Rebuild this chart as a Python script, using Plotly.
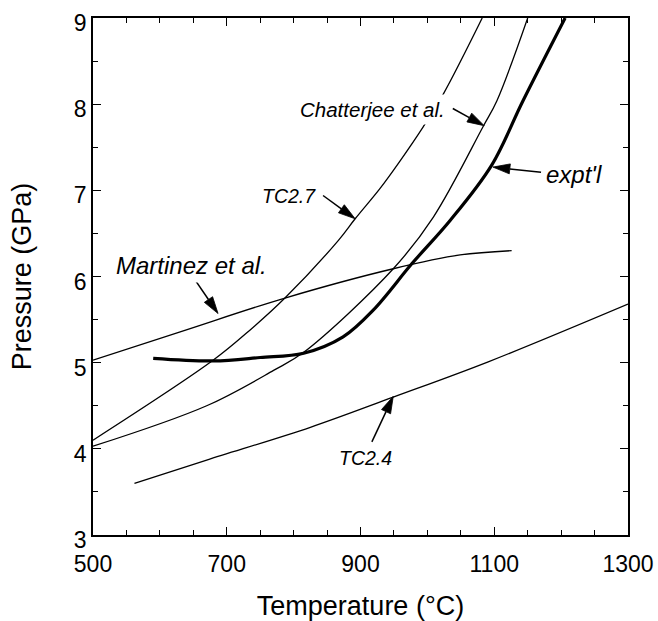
import numpy as np
import plotly.graph_objects as go

# Phase boundary curves: temperature (°C) and pressure (GPa)
tc27_T = [500, 680, 735, 787, 867, 892, 929, 959, 994, 1024, 1082]
tc27_P = [4.10, 5.03, 5.38, 5.75, 6.42, 6.67, 7.02, 7.34, 7.74, 8.12, 9.00]

chat_T = [500, 670, 770, 815, 949, 1009, 1084, 1104, 1150]
chat_P = [4.03, 4.50, 4.91, 5.12, 6.09, 6.69, 7.75, 8.04, 9.00]

expt_T = [590, 680, 750, 815, 874, 919, 977, 1034, 1096, 1143, 1206]
expt_P = [5.05, 5.02, 5.06, 5.11, 5.30, 5.61, 6.15, 6.65, 7.29, 8.04, 9.00]

mart_T = [500, 635, 787, 949, 1049, 1126]
mart_P = [5.03, 5.37, 5.75, 6.09, 6.25, 6.30]

tc24_T = [562, 670, 825, 949, 1091, 1300]
tc24_P = [3.60, 3.87, 4.25, 4.60, 5.01, 5.68]

x_ticks = [500, 700, 900, 1100, 1300]
y_ticks = [3, 4, 5, 6, 7, 8, 9]

FONT = "Liberation Sans, Arial, sans-serif"
W, H = 658, 621
ML, MR, MT, MB = 93, 30, 18, 86
X_RANGE = (500, 1300)
Y_RANGE = (3, 9)
SX = (W - ML - MR) / (X_RANGE[1] - X_RANGE[0])   # px per °C
SY = (H - MT - MB) / (Y_RANGE[1] - Y_RANGE[0])   # px per GPa

fig = go.Figure()

curves = [
    (tc27_T, tc27_P, 1.3),
    (chat_T, chat_P, 1.3),
    (mart_T, mart_P, 1.3),
    (tc24_T, tc24_P, 1.3),
    (expt_T, expt_P, 3.2),
]
for T, P, w in curves:
    fig.add_trace(go.Scatter(
        x=T, y=P, mode="lines",
        line=dict(color="black", width=w, shape="spline", smoothing=1.0),
        showlegend=False, hoverinfo="skip",
    ))

# Curve labels: (text, x, y, size)
labels = [
    ("Chatterjee et al.", 918, 7.94, 20.5),
    ("TC2.7", 793, 6.94, 19.5),
    ("Martinez et al.", 648, 6.13, 24),
    ("expt'l", 1219, 7.18, 24),
    ("TC2.4", 908, 3.89, 19.5),
]
for text, x, y, size in labels:
    fig.add_annotation(
        x=x, y=y, xref="x", yref="y", text=f"<i>{text}</i>",
        showarrow=False, xanchor="center", yanchor="middle",
        font=dict(family=FONT, size=size, color="black"),
        bgcolor="white", borderpad=3,
    )

# Pointer arrows: (tail T, tail P, tip T, tip P)
arrows = [
    (1038, 7.95, 1085, 7.75),
    (844, 6.94, 892, 6.67),
    (650, 5.99, 687, 5.57),
    (1170, 7.21, 1098, 7.27),
    (917, 4.08, 949, 4.61),
]
HEAD_LEN, HEAD_HALF = 17.0, 5.0
shapes = []
for t0, p0, t1, p1 in arrows:
    # work in screen pixels so the head keeps its shape
    x0, y0 = t0 * SX, p0 * SY
    x1, y1 = t1 * SX, p1 * SY
    d = np.hypot(x1 - x0, y1 - y0)
    ux, uy = (x1 - x0) / d, (y1 - y0) / d
    nx, ny = -uy, ux
    bx, by = x1 - HEAD_LEN * ux, y1 - HEAD_LEN * uy
    c1 = ((bx + HEAD_HALF * nx) / SX, (by + HEAD_HALF * ny) / SY)
    c2 = ((bx - HEAD_HALF * nx) / SX, (by - HEAD_HALF * ny) / SY)
    base = (bx / SX, by / SY)
    shapes.append(dict(type="line", xref="x", yref="y", x0=t0, y0=p0,
                       x1=base[0], y1=base[1],
                       line=dict(color="black", width=1.5), layer="above"))
    shapes.append(dict(type="path", xref="x", yref="y",
                       path=f"M {t1},{p1} L {c1[0]},{c1[1]} L {c2[0]},{c2[1]} Z",
                       fillcolor="black", line=dict(color="black", width=0.8),
                       layer="above"))

axis_common = dict(
    showline=True, linecolor="black", linewidth=1.6, mirror="ticks",
    ticks="inside", ticklen=8, tickwidth=1.2, tickcolor="black",
    showgrid=False, zeroline=False, automargin=False,
    tickfont=dict(family=FONT, size=23, color="black"),
)

fig.update_layout(
    width=W, height=H,
    margin=dict(l=ML, r=MR, t=MT, b=MB),
    paper_bgcolor="white", plot_bgcolor="white",
    shapes=shapes,
    xaxis=dict(
        range=list(X_RANGE), tickvals=x_ticks,
        ticklabelstandoff=8,
        minor=dict(dtick=50, tick0=500, ticks="inside", ticklen=5,
                   tickwidth=1, tickcolor="black"),
        title=dict(text="Temperature (°C)", standoff=25,
                   font=dict(family=FONT, size=27, color="black")),
        **axis_common,
    ),
    yaxis=dict(
        range=list(Y_RANGE), tickvals=y_ticks,
        ticklabelshift=5,
        minor=dict(dtick=0.5, tick0=3, ticks="inside", ticklen=5,
                   tickwidth=1, tickcolor="black"),
        title=dict(text="Pressure (GPa)", standoff=34,
                   font=dict(family=FONT, size=27, color="black")),
        **axis_common,
    ),
)

fig.write_html("out.html")
